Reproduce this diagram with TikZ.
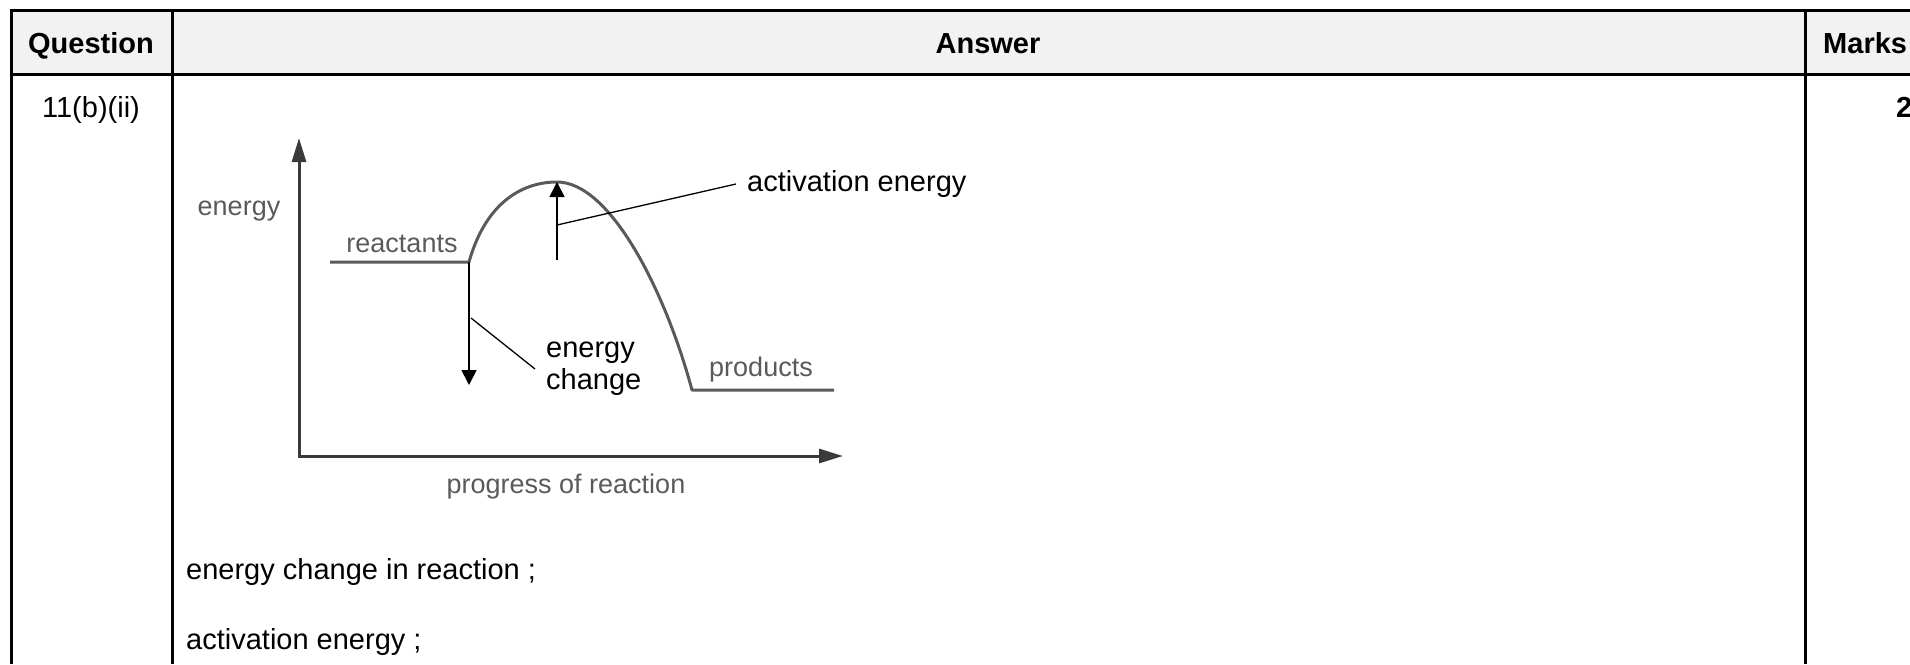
\documentclass[tikz,border=0pt]{standalone}
\usepackage{fontspec}
\setmainfont{Liberation Sans}
\usetikzlibrary{arrows.meta}
\definecolor{headgray}{HTML}{F2F2F2}
\definecolor{plotgray}{HTML}{5A5A5A}
\definecolor{axisgray}{HTML}{3A3A3A}
\tikzset{
  cell/.style={font=\fontsize{29}{34}\selectfont, inner sep=0pt},
  headcell/.style={cell, font=\fontsize{29}{34}\selectfont\bfseries},
  plotlabel/.style={text=plotgray, font=\fontsize{27}{30}\selectfont, inner sep=0pt},
  marker/.style={draw=black, line width=1.7pt, -{Triangle[length=15pt,width=15pt]}},
  leader/.style={draw=black, line width=1.3pt},
}
\begin{document}
\begin{tikzpicture}[x=1pt, y=-1pt]
  \useasboundingbox (0,0) rectangle (1910,664);
  % Table
  \fill[headgray] (11,10) rectangle (1910,74);
  \draw[line width=3pt] (1910,10) -- (11,10) -- (11,664);
  \draw[line width=3pt] (11,74) -- (1910,74);
  \foreach \x in {172, 1805} {
    \draw[line width=3pt] (\x,10) -- (\x,664);
  }
  \node[headcell, anchor=base] (question) at (91,53) {Question};
  \node[headcell, anchor=base] (answer) at (988,53) {Answer};
  \node[headcell, anchor=base west] (marks) at (1823,53) {Marks};
  \node[cell, anchor=base] (qnum) at (91,117) {11(b)(ii)};
  \node[headcell, anchor=base west] (mark) at (1896,117) {2};

  % Axes
  \coordinate (ytop) at (299,138);
  \coordinate (xend) at (843,456);
  \draw[axisgray, line width=3pt, {Triangle[length=24pt,width=14pt]}-{Triangle[length=24pt,width=14pt]}] (ytop) |- (xend);
  \node[plotlabel] (ylabel) at (239,211) {energy};
  \node[plotlabel] (xlabel) at (566,487) {progress of reaction};

  % Energy profile
  \coordinate (rstart) at (330,262);
  \coordinate (rend) at (469,262);
  \coordinate (peak) at (557,182);
  \coordinate (pstart) at (692,390);
  \coordinate (pend) at (834,390);
  \draw[plotgray, line width=3pt, line join=round] (rstart) -- (rend)
    .. controls (485,205) and (520,182) .. (peak)
    .. controls (610,182) and (665,290) .. (pstart) -- (pend);
  \node[plotlabel] (reactants) at (402,244) {reactants};
  \node[plotlabel] (products) at (761,370) {products};

  % Activation energy
  \coordinate (abase) at (557,260);
  \coordinate (alead) at (557,225);
  \draw[marker] (abase) -- (peak);
  \node[cell, anchor=west, inner xsep=11pt] (actlabel) at (736,184) {activation energy};
  \draw[leader] (alead) -- (actlabel.west);

  % Energy change
  \coordinate (dtip) at (469,385);
  \coordinate (dlead) at (471,318);
  \draw[marker] (rend) -- (dtip);
  \node[cell, anchor=west, inner xsep=11pt, align=left, font=\fontsize{29}{32}\selectfont] (changelabel) at (535,369) {energy\\change};
  \draw[leader] (dlead) -- (changelabel.west);

  % Answer lines
  \node[cell, anchor=west] (answerone) at (186,572) {energy change in reaction ;};
  \node[cell, anchor=west] (answertwo) at (186,642) {activation energy ;};
\end{tikzpicture}
\end{document}
